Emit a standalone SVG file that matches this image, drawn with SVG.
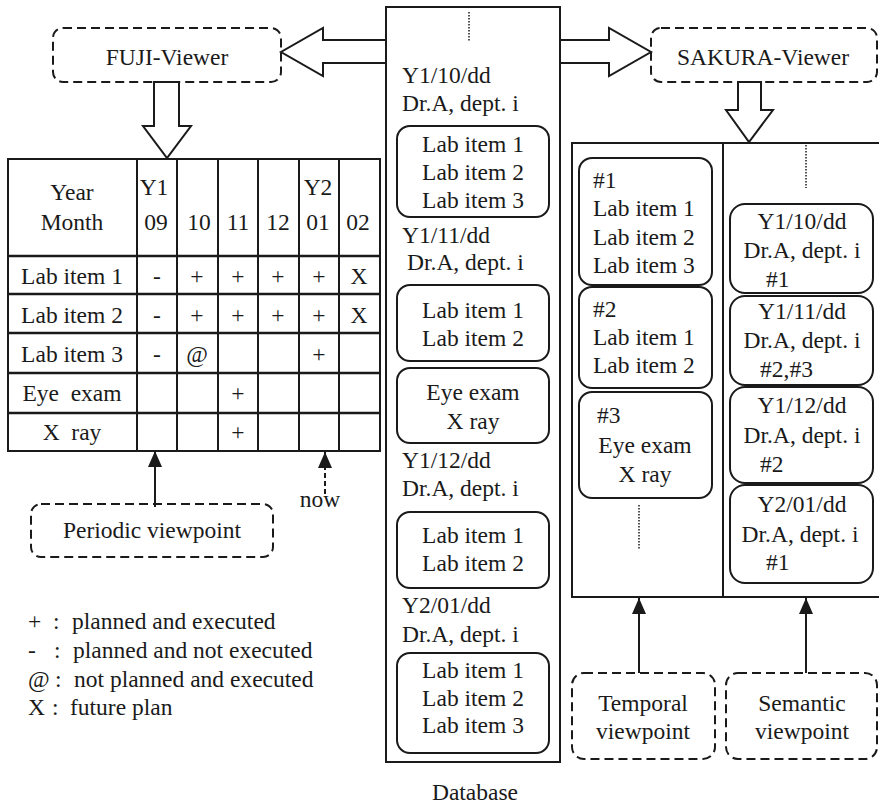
<svg xmlns="http://www.w3.org/2000/svg" width="879" height="806" viewBox="0 0 879 806" font-family="Liberation Serif, Times New Roman, serif" font-size="23.5">
<style>
text{fill:#1a1a1a}
.c{text-anchor:middle}
.pre{white-space:pre}
.dash{fill:none;stroke:#1a1a1a;stroke-width:2;stroke-dasharray:9 5}
.rb{fill:none;stroke:#1a1a1a;stroke-width:2}
.box{fill:none;stroke:#1a1a1a;stroke-width:2}
.blk{fill:#fff;stroke:#1a1a1a;stroke-width:2;stroke-linejoin:miter}
.dot{stroke:#1a1a1a;stroke-width:1.5;stroke-dasharray:1.5 1.5}
.tl{stroke:#1a1a1a;stroke-width:2}
.th{stroke:#1a1a1a;stroke-width:2.5}
</style>
<defs>
<marker id="ah" markerUnits="userSpaceOnUse" markerWidth="16" markerHeight="14" refX="16" refY="7" orient="auto">
<path d="M0,0 L16,7 L0,14 Z" fill="#1a1a1a"/>
</marker>
</defs>

<g id="connectors">
<polygon class="blk" points="386,40 323,40 323,28 281,52 323,76 323,63 386,63"/>
<polygon class="blk" points="560,40 609,40 609,28 651,52 609,76 609,63 560,63"/>
<polygon class="blk" points="154,82 154,126 143,126 167,158 191,126 179,126 179,82"/>
<polygon class="blk" points="738,82 738,110 726,110 749,142 773,110 761,110 761,82"/>
<line x1="155" y1="507" x2="155" y2="451" stroke="#1a1a1a" stroke-width="2" marker-end="url(#ah)"/>
<line x1="325" y1="494" x2="325" y2="452" stroke="#1a1a1a" stroke-width="2" stroke-dasharray="5 3" marker-end="url(#ah)"/>
<line x1="639" y1="673" x2="639" y2="598" stroke="#1a1a1a" stroke-width="2" marker-end="url(#ah)"/>
<line x1="806" y1="673" x2="806" y2="598" stroke="#1a1a1a" stroke-width="2" marker-end="url(#ah)"/>
</g>

<g id="fuji-viewer">
<rect class="dash" x="53" y="28" width="228" height="54" rx="10"/>
<text class="c" x="167" y="65">FUJI-Viewer</text>
</g>

<g id="sakura-viewer">
<rect class="dash" x="651" y="28" width="226" height="54" rx="10"/>
<text class="c" x="763" y="65">SAKURA-Viewer</text>
</g>

<g id="fuji-table">
<rect class="box" x="8" y="159" width="372" height="292"/>
<line class="tl" x1="137" y1="159" x2="137" y2="451"/>
<line class="tl" x1="177" y1="159" x2="177" y2="451"/>
<line class="tl" x1="218" y1="159" x2="218" y2="451"/>
<line class="tl" x1="258" y1="159" x2="258" y2="451"/>
<line class="tl" x1="299" y1="159" x2="299" y2="451"/>
<line class="tl" x1="339" y1="159" x2="339" y2="451"/>
<line class="th" x1="8" y1="256" x2="380" y2="256"/>
<line class="th" x1="8" y1="294" x2="380" y2="294"/>
<line class="th" x1="8" y1="333" x2="380" y2="333"/>
<line class="th" x1="8" y1="373" x2="380" y2="373"/>
<line class="th" x1="8" y1="413" x2="380" y2="413"/>
<text class="c" x="72" y="200">Year</text>
<text class="c" x="72" y="230">Month</text>
<text class="c" x="154" y="195">Y1</text>
<text class="c" x="156" y="230">09</text>
<text class="c" x="199" y="230">10</text>
<text class="c" x="238" y="230">11</text>
<text class="c" x="278" y="230">12</text>
<text class="c" x="318" y="195">Y2</text>
<text class="c" x="318" y="230">01</text>
<text class="c" x="358" y="230">02</text>
<text class="c" x="72" y="284">Lab item 1</text>
<text class="c" x="72" y="323">Lab item 2</text>
<text class="c" x="72" y="362">Lab item 3</text>
<text class="c pre" x="72" y="401">Eye  exam</text>
<text class="c pre" x="72" y="440">X  ray</text>
<text class="c" x="157" y="284">-</text>
<text class="c" x="197" y="284">+</text>
<text class="c" x="238" y="284">+</text>
<text class="c" x="278" y="284">+</text>
<text class="c" x="319" y="284">+</text>
<text class="c" x="359" y="284">X</text>
<text class="c" x="157" y="323">-</text>
<text class="c" x="197" y="323">+</text>
<text class="c" x="238" y="323">+</text>
<text class="c" x="278" y="323">+</text>
<text class="c" x="319" y="323">+</text>
<text class="c" x="359" y="323">X</text>
<text class="c" x="157" y="362">-</text>
<text class="c" x="197" y="362">@</text>
<text class="c" x="319" y="362">+</text>
<text class="c" x="238" y="401">+</text>
<text class="c" x="238" y="440">+</text>
</g>

<g id="now-label">
<text class="c" x="320" y="507">now</text>
</g>

<g id="periodic-viewpoint">
<rect class="dash" x="31" y="504" width="242" height="53" rx="10"/>
<text class="c" x="152" y="538">Periodic viewpoint</text>
</g>

<g id="legend">
<text x="28" y="629">+</text><text x="53" y="629">:</text><text x="72" y="629">planned and executed</text>
<text x="28" y="658">-</text><text x="54" y="658">:</text><text x="73" y="658">planned and not executed</text>
<text x="28" y="687">@</text><text x="55" y="687">:</text><text x="74" y="687">not planned and executed</text>
<text x="28" y="715">X</text><text x="52" y="715">:</text><text x="70" y="715">future plan</text>
</g>

<g id="database">
<rect class="box" x="386" y="7" width="174" height="755"/>
<line class="dot" x1="469" y1="12" x2="469" y2="42"/>
<text x="402" y="83">Y1/10/dd</text>
<text x="402" y="111">Dr.A, dept. i</text>
<rect class="rb" x="397" y="126" width="152" height="91" rx="13"/>
<text class="c" x="473" y="152">Lab item 1</text>
<text class="c" x="473" y="180">Lab item 2</text>
<text class="c" x="473" y="208">Lab item 3</text>
<text x="402" y="243">Y1/11/dd</text>
<text x="407" y="270">Dr.A, dept. i</text>
<rect class="rb" x="397" y="285" width="152" height="76" rx="13"/>
<text class="c" x="473" y="318">Lab item 1</text>
<text class="c" x="473" y="346">Lab item 2</text>
<rect class="rb" x="397" y="368" width="152" height="75" rx="13"/>
<text class="c" x="473" y="400">Eye exam</text>
<text class="c" x="473" y="429">X ray</text>
<text x="402" y="468">Y1/12/dd</text>
<text x="402" y="496">Dr.A, dept. i</text>
<rect class="rb" x="397" y="512" width="152" height="76" rx="13"/>
<text class="c" x="473" y="543">Lab item 1</text>
<text class="c" x="473" y="571">Lab item 2</text>
<text x="402" y="613">Y2/01/dd</text>
<text x="402" y="642">Dr.A, dept. i</text>
<rect class="rb" x="397" y="653" width="152" height="100" rx="13"/>
<text class="c" x="473" y="678">Lab item 1</text>
<text class="c" x="473" y="706">Lab item 2</text>
<text class="c" x="473" y="733">Lab item 3</text>
<text class="c" x="475" y="800">Database</text>
</g>

<g id="sakura-panel">
<rect class="box" x="572" y="143" width="320" height="454"/>
<line class="tl" x1="723" y1="143" x2="723" y2="597"/>
</g>

<g id="temporal-items">
<rect class="rb" x="579" y="158" width="133" height="127" rx="13"/>
<text x="593" y="188">#1</text>
<text x="593" y="216">Lab item 1</text>
<text x="593" y="245">Lab item 2</text>
<text x="593" y="273">Lab item 3</text>
<rect class="rb" x="579" y="287" width="133" height="101" rx="13"/>
<text x="593" y="317">#2</text>
<text x="593" y="345">Lab item 1</text>
<text x="593" y="373">Lab item 2</text>
<rect class="rb" x="579" y="392" width="133" height="106" rx="13"/>
<text x="597" y="423">#3</text>
<text class="c" x="645" y="453">Eye exam</text>
<text class="c" x="645" y="482">X ray</text>
<line class="dot" x1="639" y1="505" x2="639" y2="550"/>
</g>

<g id="semantic-items">
<line class="dot" x1="806" y1="145" x2="806" y2="188"/>
<rect class="rb" x="730" y="204" width="143" height="89" rx="15"/>
<text class="c" x="802" y="229">Y1/10/dd</text>
<text class="c" x="802" y="258">Dr.A, dept. i</text>
<text x="766" y="287">#1</text>
<rect class="rb" x="730" y="296" width="143" height="89" rx="15"/>
<text class="c" x="802" y="319">Y1/11/dd</text>
<text class="c" x="802" y="348">Dr.A, dept. i</text>
<text x="760" y="377">#2,#3</text>
<rect class="rb" x="730" y="387" width="143" height="96" rx="15"/>
<text class="c" x="802" y="413">Y1/12/dd</text>
<text class="c" x="802" y="443">Dr.A, dept. i</text>
<text x="760" y="472">#2</text>
<rect class="rb" x="730" y="485" width="143" height="98" rx="15"/>
<text class="c" x="802" y="512">Y2/01/dd</text>
<text class="c" x="800" y="542">Dr.A, dept. i</text>
<text x="766" y="570">#1</text>
</g>

<g id="temporal-viewpoint">
<rect class="dash" x="572" y="673" width="143" height="86" rx="12"/>
<text class="c" x="643" y="711">Temporal</text>
<text class="c" x="643" y="739">viewpoint</text>
</g>

<g id="semantic-viewpoint">
<rect class="dash" x="726" y="673" width="151" height="86" rx="12"/>
<text class="c" x="802" y="711">Semantic</text>
<text class="c" x="802" y="739">viewpoint</text>
</g>
</svg>
